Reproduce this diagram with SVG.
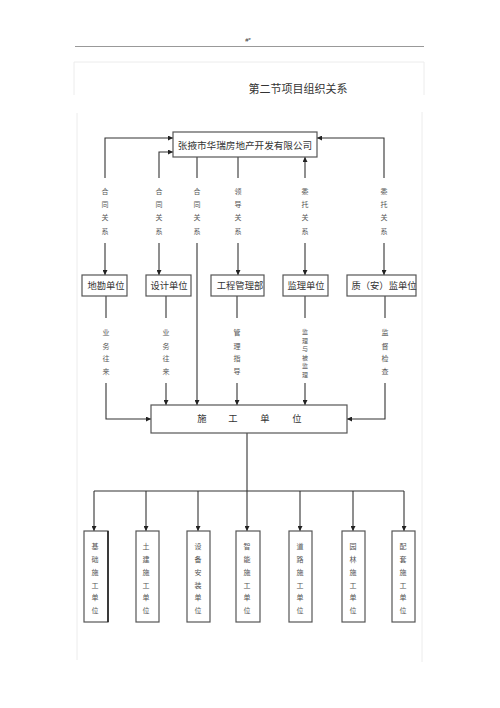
<svg xmlns="http://www.w3.org/2000/svg" width="500" height="708" viewBox="0 0 500 708">
<defs>
<marker id="ah" viewBox="0 0 10 10" refX="10" refY="5" markerWidth="5" markerHeight="5" orient="auto" markerUnits="userSpaceOnUse">
<path d="M0,0 L10,5 L0,10 z" fill="#222"/>
</marker>
<style>
.box{fill:#fff;stroke:#555;stroke-width:1.2}
.t{font-family:"Noto Sans CJK SC",sans-serif;fill:#333;text-anchor:middle}
.lbl{font-family:"Noto Sans CJK SC",sans-serif;fill:#555;font-size:7px;text-anchor:middle}
.ln{fill:none;stroke:#333;stroke-width:1.1}
.frame{fill:none;stroke:#ececec;stroke-width:1}
</style>
</defs>
<rect width="500" height="708" fill="#fff"/>
<line x1="75" y1="46.5" x2="424" y2="46.5" stroke="#999" stroke-width="1.2"/>
<text x="248" y="42" font-family="Liberation Sans,sans-serif" font-size="6" fill="#333" text-anchor="middle">#*</text>
<path class="frame" d="M74,95 V62 H424 V95"/>
<path class="frame" d="M77,113 V660 M422,112 V662"/>
<text x="298" y="93" class="t" font-size="11">第二节项目组织关系</text>

<g id="connectors">
<path class="ln" d="M105,178 V138 H173" marker-end="url(#ah)"/>
<path class="ln" d="M105,243 V275" marker-end="url(#ah)"/>
<path class="ln" d="M159,178 V152 H173" marker-end="url(#ah)"/>
<path class="ln" d="M159,243 V275" marker-end="url(#ah)"/>
<path class="ln" d="M197,157 V178"/>
<path class="ln" d="M197,243 V405" marker-end="url(#ah)"/>
<path class="ln" d="M238,157 V178"/>
<path class="ln" d="M238,243 V275" marker-end="url(#ah)"/>
<path class="ln" d="M305,178 V157" marker-end="url(#ah)"/>
<path class="ln" d="M305,243 V275" marker-end="url(#ah)"/>
<path class="ln" d="M384,178 V138 H317" marker-end="url(#ah)"/>
<path class="ln" d="M384,243 V275" marker-end="url(#ah)"/>
<path class="ln" d="M106,296 V318"/>
<path class="ln" d="M106,383 V419 H151" marker-end="url(#ah)"/>
<path class="ln" d="M166,296 V318"/>
<path class="ln" d="M166,383 V405" marker-end="url(#ah)"/>
<path class="ln" d="M237,296 V318"/>
<path class="ln" d="M237,383 V405" marker-end="url(#ah)"/>
<path class="ln" d="M305,296 V318"/>
<path class="ln" d="M305,383 V405" marker-end="url(#ah)"/>
<path class="ln" d="M385,296 V318"/>
<path class="ln" d="M385,383 V419 H347" marker-end="url(#ah)"/>
<path class="ln" d="M247,433 V531" marker-end="url(#ah)"/>
<path class="ln" d="M94,491 H404"/>
<path class="ln" d="M94,491 V531" marker-end="url(#ah)"/>
<path class="ln" d="M146,491 V531" marker-end="url(#ah)"/>
<path class="ln" d="M198,491 V531" marker-end="url(#ah)"/>
<path class="ln" d="M300,491 V531" marker-end="url(#ah)"/>
<path class="ln" d="M353,491 V531" marker-end="url(#ah)"/>
<path class="ln" d="M404,491 V531" marker-end="url(#ah)"/>
</g>

<g id="labels">
<text class="lbl"><tspan x="105" y="194">合</tspan><tspan x="105" y="207">同</tspan><tspan x="105" y="220">关</tspan><tspan x="105" y="234">系</tspan></text>
<text class="lbl"><tspan x="159" y="194">合</tspan><tspan x="159" y="207">同</tspan><tspan x="159" y="220">关</tspan><tspan x="159" y="234">系</tspan></text>
<text class="lbl"><tspan x="197" y="194">合</tspan><tspan x="197" y="207">同</tspan><tspan x="197" y="220">关</tspan><tspan x="197" y="234">系</tspan></text>
<text class="lbl"><tspan x="238" y="194">领</tspan><tspan x="238" y="207">导</tspan><tspan x="238" y="220">关</tspan><tspan x="238" y="234">系</tspan></text>
<text class="lbl"><tspan x="305" y="194">委</tspan><tspan x="305" y="207">托</tspan><tspan x="305" y="220">关</tspan><tspan x="305" y="234">系</tspan></text>
<text class="lbl"><tspan x="384" y="194">委</tspan><tspan x="384" y="207">托</tspan><tspan x="384" y="220">关</tspan><tspan x="384" y="234">系</tspan></text>
<text class="lbl"><tspan x="106" y="335">业</tspan><tspan x="106" y="349">务</tspan><tspan x="106" y="361">往</tspan><tspan x="106" y="374">来</tspan></text>
<text class="lbl"><tspan x="166" y="335">业</tspan><tspan x="166" y="349">务</tspan><tspan x="166" y="361">往</tspan><tspan x="166" y="374">来</tspan></text>
<text class="lbl"><tspan x="237" y="335">管</tspan><tspan x="237" y="349">理</tspan><tspan x="237" y="361">指</tspan><tspan x="237" y="374">导</tspan></text>
<text class="lbl" font-size="6" style="font-size:6px"><tspan x="305" y="334">监</tspan><tspan x="305" y="342.6">理</tspan><tspan x="305" y="351.2">与</tspan><tspan x="305" y="359.8">被</tspan><tspan x="305" y="368.4">监</tspan><tspan x="305" y="377">理</tspan></text>
<text class="lbl"><tspan x="385" y="335">监</tspan><tspan x="385" y="349">督</tspan><tspan x="385" y="361">检</tspan><tspan x="385" y="374">查</tspan></text>
</g>

<g id="company"><rect class="box" x="173" y="132" width="144" height="25"/><text class="t" x="245" y="148.5" font-size="9.6">张掖市华瑞房地产开发有限公司</text></g>

<g id="dikan"><rect class="box" x="82" y="275" width="45" height="21"/><text class="t" x="106" y="289" font-size="9.3">地勘单位</text></g>
<g id="sheji"><rect class="box" x="146" y="275" width="45" height="21"/><text class="t" x="169" y="289" font-size="9.3">设计单位</text></g>
<g id="gongcheng"><rect class="box" x="211" y="275" width="53" height="21"/><text class="t" x="240" y="289" font-size="9.3">工程管理部</text></g>
<g id="jianli"><rect class="box" x="283" y="275" width="45" height="21" stroke-width="1.6"/><text class="t" x="306" y="289" font-size="9.3">监理单位</text></g>
<g id="zhijian"><rect class="box" x="347" y="275" width="69" height="21"/><text class="t" x="384" y="289" font-size="9.3">质（安）监单位</text></g>

<g id="shigong"><rect class="box" x="151" y="405" width="196" height="28"/>
<text class="t" font-size="9.3"><tspan x="202" y="422">施</tspan><tspan x="233" y="422">工</tspan><tspan x="265" y="422">单</tspan><tspan x="297" y="422">位</tspan></text></g>

<g id="jichu"><rect class="box" x="84" y="531" width="24" height="91"/><path d="M108,531 V622" stroke="#222" stroke-width="1.6"/>
<text class="lbl"><tspan x="95" y="549">基</tspan><tspan x="95" y="562">础</tspan><tspan x="95" y="575">施</tspan><tspan x="95" y="588">工</tspan><tspan x="95" y="600">单</tspan><tspan x="95" y="613">位</tspan></text></g>
<g id="tujian"><rect class="box" x="136" y="531" width="23" height="91"/>
<text class="lbl"><tspan x="146" y="549">土</tspan><tspan x="146" y="562">建</tspan><tspan x="146" y="575">施</tspan><tspan x="146" y="588">工</tspan><tspan x="146" y="600">单</tspan><tspan x="146" y="613">位</tspan></text></g>
<g id="shebei"><rect class="box" x="187" y="531" width="23" height="91"/>
<text class="lbl"><tspan x="198" y="549">设</tspan><tspan x="198" y="562">备</tspan><tspan x="198" y="575">安</tspan><tspan x="198" y="588">装</tspan><tspan x="198" y="600">单</tspan><tspan x="198" y="613">位</tspan></text></g>
<g id="zhineng"><rect class="box" x="236" y="531" width="24" height="91"/>
<text class="lbl"><tspan x="247" y="549">智</tspan><tspan x="247" y="562">能</tspan><tspan x="247" y="575">施</tspan><tspan x="247" y="588">工</tspan><tspan x="247" y="600">单</tspan><tspan x="247" y="613">位</tspan></text></g>
<g id="daolu"><rect class="box" x="289" y="531" width="23" height="91"/>
<text class="lbl"><tspan x="300" y="549">道</tspan><tspan x="300" y="562">路</tspan><tspan x="300" y="575">施</tspan><tspan x="300" y="588">工</tspan><tspan x="300" y="600">单</tspan><tspan x="300" y="613">位</tspan></text></g>
<g id="yuanlin"><rect class="box" x="342" y="531" width="23" height="91"/>
<text class="lbl"><tspan x="353" y="549">园</tspan><tspan x="353" y="562">林</tspan><tspan x="353" y="575">施</tspan><tspan x="353" y="588">工</tspan><tspan x="353" y="600">单</tspan><tspan x="353" y="613">位</tspan></text></g>
<g id="peitao"><rect class="box" x="392" y="531" width="23" height="91"/>
<text class="lbl"><tspan x="403" y="549">配</tspan><tspan x="403" y="562">套</tspan><tspan x="403" y="575">施</tspan><tspan x="403" y="588">工</tspan><tspan x="403" y="600">单</tspan><tspan x="403" y="613">位</tspan></text></g>
</svg>
